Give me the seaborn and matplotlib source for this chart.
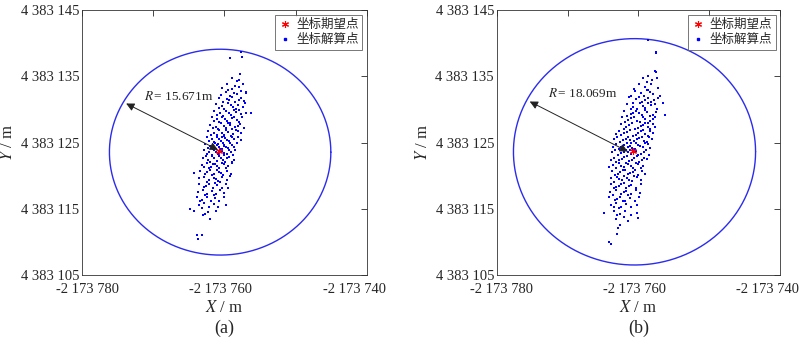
import numpy as np
import pandas as pd
import seaborn as sns
import matplotlib.pyplot as plt
from matplotlib.lines import Line2D
from matplotlib.transforms import ScaledTranslation, blended_transform_factory

# Coordenadas base (m)
X0 = -2173760
Y0 = 4383125

# Punto esperado (offsets respecto a la base)
esp_dx = -0.7
esp_dy = -1.3

# Radios del círculo dibujado y textos
radio_a = 15.55
radio_b = 17.1
texto_a = '15.671'
texto_b = '18.069'
centro_a = (-0.6, -1.45)
centro_b = (-0.55, -1.4)

# Puntos solución (a): offsets dx, dy
pts_a = [
    (0.4,8.8),(1.5,8.6),(2.6,8.9),(-0.3,8.3),(1.0,8.1),(2.0,8.4),
    (0.2,7.7),(1.3,7.5),(2.4,7.8),(-0.5,7.2),(0.8,7.1),(1.8,7.3),(3.0,7.6),(0.5,7.9),
    (-0.8,6.8),(0.3,6.6),(1.1,6.9),(2.0,6.5),(2.8,6.3),(-0.2,6.2),(1.5,6.1),(0.7,6.4),(2.3,6.8),
    (-1.2,5.8),(-0.4,5.5),(0.5,5.9),(1.2,5.3),(1.9,5.7),(2.6,5.4),(0.0,5.1),(0.9,5.6),(1.6,5.0),(-0.8,5.2),(2.9,5.9),
    (-1.5,4.7),(-0.6,4.4),(0.2,4.8),(0.9,4.2),(1.6,4.6),(2.3,4.3),(-0.2,4.0),(0.6,4.5),(1.3,4.9),(-1.0,4.1),(2.0,4.9),(3.1,4.5),
    (-1.8,3.8),(-1.1,3.5),(-0.3,3.9),(0.4,3.2),(1.0,3.7),(1.7,3.4),(2.5,3.8),(-0.7,3.1),(0.1,3.6),(0.8,3.0),(1.4,3.9),(2.1,3.1),(-1.4,3.2),
    (-2.0,2.7),(-1.2,2.4),(-0.5,2.9),(0.2,2.2),(0.8,2.6),(1.5,2.3),(2.2,2.8),(-0.9,2.0),(-0.1,2.5),(0.5,2.9),(1.1,2.1),(1.9,2.5),(-1.6,2.2),(2.7,2.2),
    (-2.3,1.8),(-1.5,1.5),(-0.8,1.9),(-0.1,1.2),(0.5,1.6),(1.2,1.3),(1.9,1.7),(-1.1,1.1),(-0.4,1.5),(0.2,1.9),(0.9,1.0),(1.6,1.9),(-1.9,1.2),(2.4,1.4),(0.0,1.0),
    (-2.5,0.8),(-1.8,0.5),(-1.1,0.9),(-0.5,0.3),(0.1,0.7),(0.7,0.2),(1.3,0.6),(1.9,0.9),(-1.4,0.1),(-0.8,0.6),(-0.2,0.0),(0.4,0.4),(1.0,0.9),(-2.1,0.3),(2.3,0.4),(-0.3,0.8),
    (-2.7,-0.2),(-2.0,-0.5),(-1.3,-0.1),(-0.7,-0.7),(-0.1,-0.3),(0.5,-0.8),(1.1,-0.4),(1.7,-0.1),(-1.6,-0.9),(-1.0,-0.4),(-0.4,-0.9),(0.2,-0.6),(0.8,-0.1),(-2.3,-0.8),(1.4,-0.7),(-0.9,-0.2),(0.0,-0.5),
    (-2.9,-1.2),(-2.2,-1.5),(-1.5,-1.1),(-0.9,-1.7),(-0.3,-1.3),(0.3,-1.8),(0.9,-1.4),(1.5,-1.1),(-1.8,-1.9),(-1.2,-1.4),(-0.6,-1.0),(0.0,-1.6),(0.6,-1.1),(-2.5,-1.8),(1.2,-1.9),(-0.1,-1.9),
    (-3.0,-2.3),(-2.3,-2.6),(-1.7,-2.1),(-1.1,-2.8),(-0.5,-2.4),(0.1,-2.9),(0.7,-2.2),(1.3,-2.6),(-2.0,-2.9),(-1.4,-2.4),(-0.8,-2.1),(-0.2,-2.7),(0.4,-2.3),(-2.6,-2.1),(1.0,-2.9),
    (-3.2,-3.4),(-2.5,-3.1),(-1.9,-3.7),(-1.3,-3.3),(-0.7,-3.8),(-0.1,-3.2),(0.5,-3.6),(1.1,-3.1),(-2.2,-3.9),(-1.6,-3.2),(-1.0,-3.6),(-0.4,-3.1),(0.2,-3.9),(-2.8,-3.7),
    (-3.4,-4.3),(-2.7,-4.7),(-2.0,-4.2),(-1.4,-4.8),(-0.8,-4.4),(-0.2,-4.9),(0.4,-4.3),(0.9,-4.7),(-2.4,-4.5),(-1.1,-4.1),(-0.5,-4.6),(-1.7,-4.9),(-4.3,-4.6),
    (-3.5,-5.4),(-2.8,-5.2),(-2.1,-5.7),(-1.5,-5.3),(-0.9,-5.8),(-0.3,-5.2),(0.3,-5.6),(0.8,-5.1),(-2.5,-5.9),(-1.2,-5.5),(-0.6,-5.9),
    (-3.6,-6.3),(-2.9,-6.7),(-2.2,-6.2),(-1.6,-6.8),(-1.0,-6.4),(-0.4,-6.9),(0.2,-6.3),(-2.6,-6.5),(-1.3,-6.1),(0.5,-6.8),
    (-3.7,-7.4),(-3.0,-7.2),(-2.4,-7.8),(-1.8,-7.3),(-1.2,-7.7),(-0.6,-7.1),(0.0,-7.6),(-2.7,-7.9),(-1.5,-7.9),
    (-3.8,-8.3),(-3.1,-8.7),(-2.5,-8.2),(-1.9,-8.8),(-1.3,-8.4),(-0.7,-8.9),(-0.1,-8.2),(-3.4,-8.9),
    (-3.6,-9.4),(-2.8,-9.2),(-2.1,-9.7),(-1.5,-9.3),(-0.9,-9.8),(0.2,-9.4),(-3.2,-9.9),
    (-4.9,-10.0),(-4.3,-10.3),(-2.7,-10.8),(-1.2,-10.3),(-2.3,-10.5),(-3.0,-10.9),(-2.0,-11.5),
    (2.3,13.7),(2.45,13.0),(0.85,12.7),(2.2,10.4),(2.1,9.4),(3.1,7.5),(3.8,4.4),(1.0,9.8),(1.8,9.3),
    (-3.8,-13.9),(-3.2,-14.0),(-3.7,-14.6),
]

# Puntos solución (b)
pts_b = [
    (0.6,9.8),(1.9,9.5),(1.2,9.1),(2.6,9.7),
    (0.1,8.8),(1.0,8.4),(1.8,8.9),(2.7,8.2),(-0.6,8.1),(1.4,8.0),
    (-0.5,7.8),(0.4,7.5),(1.2,7.9),(2.1,7.3),(-1.1,7.1),(0.8,7.0),(1.7,7.6),(3.0,7.1),
    (-1.3,6.9),(-0.3,6.6),(0.5,6.2),(1.3,6.8),(2.2,6.4),(-0.8,6.0),(0.9,6.5),(1.8,6.1),(2.8,6.7),(0.1,6.9),
    (-1.6,5.8),(-0.7,5.4),(0.2,5.9),(1.0,5.2),(1.8,5.6),(2.6,5.1),(-1.1,5.0),(0.6,5.5),(1.4,5.9),(-0.2,5.1),(2.3,5.8),
    (-2.0,4.7),(-1.1,4.3),(-0.3,4.8),(0.5,4.1),(1.2,4.6),(2.0,4.2),(-1.6,4.0),(0.1,4.4),(0.9,4.9),(1.6,4.0),(2.5,4.6),(3.75,4.1),(-0.7,4.5),
    (-2.3,3.8),(-1.4,3.4),(-0.6,3.9),(0.2,3.1),(0.9,3.6),(1.7,3.2),(2.4,3.8),(-1.9,3.1),(-1.0,3.7),(-0.2,3.3),(0.6,3.9),(1.3,3.0),(2.1,3.5),
    (-2.5,2.8),(-1.7,2.4),(-0.9,2.9),(-0.1,2.2),(0.6,2.7),(1.3,2.3),(2.0,2.8),(-2.1,2.1),(-1.3,2.6),(-0.5,2.0),(0.3,2.5),(1.0,2.9),(1.7,2.0),(2.4,2.4),
    (-2.8,1.8),(-2.0,1.4),(-1.2,1.9),(-0.4,1.2),(0.3,1.7),(1.0,1.3),(1.7,1.8),(-2.4,1.1),(-1.6,1.6),(-0.8,1.0),(0.0,1.5),(0.7,1.9),(1.4,1.0),(2.1,1.5),(-3.2,1.3),
    (-3.0,0.8),(-2.2,0.4),(-1.4,0.9),(-0.6,0.2),(0.1,0.7),(0.8,0.3),(1.5,0.8),(-2.6,0.1),(-1.8,0.6),(-1.0,0.0),(-0.2,0.5),(0.5,0.9),(1.2,0.1),(1.9,0.5),(-3.4,0.5),(-1.2,0.4),
    (-3.2,-0.2),(-2.4,-0.6),(-1.6,-0.1),(-0.9,-0.8),(-0.1,-0.3),(0.6,-0.7),(1.3,-0.2),(-2.8,-0.9),(-2.0,-0.4),(-1.2,-0.5),(-0.5,-0.9),(0.2,-0.5),(0.9,-0.1),(1.6,-0.8),(-3.6,-0.6),(-1.5,-0.7),(-0.3,-0.1),
    (-3.3,-1.2),(-2.5,-1.6),(-1.8,-1.1),(-1.0,-1.8),(-0.3,-1.3),(0.4,-1.7),(1.1,-1.2),(-2.9,-1.9),(-2.1,-1.4),(-1.4,-1.5),(-0.7,-1.0),(0.0,-1.9),(0.8,-1.5),(1.5,-1.9),(-3.7,-1.4),(-1.2,-1.2),
    (-3.5,-2.3),(-2.7,-2.7),(-2.0,-2.2),(-1.3,-2.8),(-0.6,-2.4),(0.1,-2.9),(0.8,-2.3),(-3.1,-2.9),(-2.3,-2.5),(-1.6,-2.1),(-0.9,-2.6),(-0.2,-2.1),(0.5,-2.7),(1.2,-2.5),(-3.9,-2.6),
    (-3.6,-3.4),(-2.8,-3.1),(-2.1,-3.7),(-1.4,-3.3),(-0.7,-3.8),(0.0,-3.2),(0.7,-3.6),(-3.2,-3.9),(-2.5,-3.5),(-1.8,-3.1),(-1.1,-3.6),(-0.4,-3.1),(0.3,-3.9),(-4.1,-3.65),
    (-3.7,-4.3),(-2.9,-4.7),(-2.2,-4.2),(-1.5,-4.8),(-0.8,-4.4),(-0.1,-4.9),(0.5,-4.3),(-3.3,-4.9),(-2.6,-4.5),(-1.9,-4.1),(-1.2,-4.6),(-0.5,-4.1),(0.9,-4.7),
    (-3.8,-5.4),(-3.0,-5.2),(-2.3,-5.7),(-1.6,-5.3),(-0.9,-5.8),(-0.2,-5.2),(0.4,-5.6),(-3.4,-5.9),(-2.7,-5.5),(-2.0,-5.1),(-1.3,-5.6),(-0.6,-5.1),
    (-3.9,-6.3),(-3.1,-6.7),(-2.4,-6.2),(-1.7,-6.8),(-1.0,-6.4),(-0.3,-6.9),(0.3,-6.3),(-3.5,-6.9),(-2.8,-6.5),(-2.0,-6.1),(-1.3,-6.6),
    (-4.0,-7.4),(-3.2,-7.2),(-2.5,-7.8),(-1.8,-7.3),(-1.1,-7.7),(-0.4,-7.1),(0.2,-7.6),(-3.6,-7.9),(-2.1,-7.5),(-1.4,-7.9),
    (-4.1,-8.3),(-3.3,-8.7),(-2.6,-8.2),(-1.9,-8.8),(-1.2,-8.4),(-0.5,-8.9),(0.1,-8.2),(-3.0,-8.5),(-2.2,-8.9),
    (-3.9,-9.4),(-3.1,-9.2),(-2.4,-9.7),(-1.7,-9.3),(-1.0,-9.8),(-0.2,-9.4),(-2.8,-9.9),(-3.5,-9.8),
    (-4.8,-10.7),(-3.4,-10.3),(-2.6,-10.8),(-1.9,-10.4),(-1.1,-10.9),(-0.2,-10.6),(-3.0,-10.9),
    (-1.4,-11.9),(-0.1,-11.4),(-2.6,-12.4),(-3.2,-11.6),(-2.0,-11.3),(-2.9,-12.9),
    (-3.0,-13.8),(-4.1,-15.0),(-3.85,-15.4),
    (1.4,15.5),(2.5,13.75),(2.55,13.6),(2.35,10.85),(2.45,10.6),(1.4,10.1),(3.05,7.1),(3.5,5.9),
]

x_ticks = [-2173780, -2173770, -2173760, -2173750, -2173740]
x_labels = ['-2 173 780', '', '-2 173 760', '', '-2 173 740']
y_ticks = [4383105, 4383115, 4383125, 4383135, 4383145]
y_labels = ['4 383 105', '4 383 115', '4 383 125', '4 383 135', '4 383 145']

# desplazamiento horizontal (px) de las etiquetas del eje X, como en el original
x_label_shift = [5, 0, -4, 0, -12]

sns.set_style('white')
plt.rcParams['font.family'] = ['Liberation Serif', 'Noto Sans CJK SC']
plt.rcParams['mathtext.fontset'] = 'stix'

fig = plt.figure(figsize=(8, 3.39), dpi=100)
ax_a = fig.add_axes([0.1025, 0.189, 0.356, 0.781])
ax_b = fig.add_axes([0.621, 0.189, 0.354, 0.781])


def panel(ax, pts, radio, centro, texto, flecha, letra):
    df = pd.DataFrame(pts, columns=['dx', 'dy'])
    df['X'] = X0 + df['dx']
    df['Y'] = Y0 + df['dy']
    t = np.linspace(0, 2 * np.pi, 400)
    cx, cy = X0 + centro[0], Y0 + centro[1]
    ax.plot(cx + radio * np.cos(t), cy + radio * np.sin(t), color='#2b2bef', lw=1.0, zorder=2)
    sns.scatterplot(data=df, x='X', y='Y', ax=ax, color='blue', marker='s', s=3.5,
                    linewidth=0, zorder=3, legend=False)
    ax.plot(X0 + esp_dx, Y0 + esp_dy, marker=(6, 2, 0), color='red', ms=5, mew=0.8, ls='', zorder=4)
    # flecha de radio
    ax.annotate('', xy=(X0 + flecha[0], Y0 + flecha[1]), xytext=(X0 + flecha[2], Y0 + flecha[3]),
                arrowprops=dict(arrowstyle='<|-|>', color='#222222', lw=0.7, mutation_scale=12,
                                shrinkA=0, shrinkB=0), zorder=5)
    ax.text(X0 + flecha[4], Y0 + flecha[5], r'$R\,$= ' + texto + 'm', fontsize=9.5,
            va='center', ha='left')
    ax.set_xlim(-2173780, -2173740)
    ax.set_ylim(4383105, 4383145)
    ax.set_xticks(x_ticks)
    ax.set_xticklabels([''] * len(x_ticks))
    trans = blended_transform_factory(ax.transData, ax.transAxes)
    for v, lab, off in zip(x_ticks, x_labels, x_label_shift):
        if lab:
            ax.text(v, 0, lab, fontsize=10.5, ha='center', va='center', clip_on=False,
                    transform=trans + ScaledTranslation(off / 100, -15 / 100, fig.dpi_scale_trans))
    ax.set_yticks(y_ticks)
    ax.set_yticklabels(y_labels, fontsize=10.5)
    ax.tick_params(direction='in', top=True, right=True, length=4, width=0.6)
    ax.tick_params(axis='y', pad=2)
    for s in ax.spines.values():
        s.set_linewidth(0.6)
        s.set_color('#333333')
    ax.set_xlabel('')
    ax.text(0.5, -0.125, '$X$ / m', transform=ax.transAxes, ha='center', va='center', fontsize=12)
    ax.set_ylabel('$Y$ / m', fontsize=12, labelpad=3)
    ax.text(0.5, -0.2, letra, transform=ax.transAxes, ha='center', va='center', fontsize=13)
    handles = [Line2D([], [], marker=(6, 2, 0), color='red', ls='', ms=5, mew=0.8),
               Line2D([], [], marker='s', color='blue', ls='', ms=2)]
    leg = ax.legend(handles, ['坐标期望点', '坐标解算点'], loc='upper right',
                    frameon=True, fancybox=False, edgecolor='#555555', borderpad=0.3,
                    handlelength=1.0, handletextpad=0.4, labelspacing=0.15,
                    borderaxespad=0.35, prop={'family': ['Noto Sans CJK SC'], 'size': 9})
    leg.get_frame().set_linewidth(0.7)


panel(ax_a, pts_a, radio_a, centro_a, texto_a,
      (-13.8, 5.9, -0.9, -1.1, -11.3, 7.0), '(a)')
panel(ax_b, pts_b, radio_b, centro_b, texto_b,
      (-15.35, 6.2, -1.5, -1.35, -12.7, 7.4), '(b)')

fig.savefig('out.png', dpi=100)
